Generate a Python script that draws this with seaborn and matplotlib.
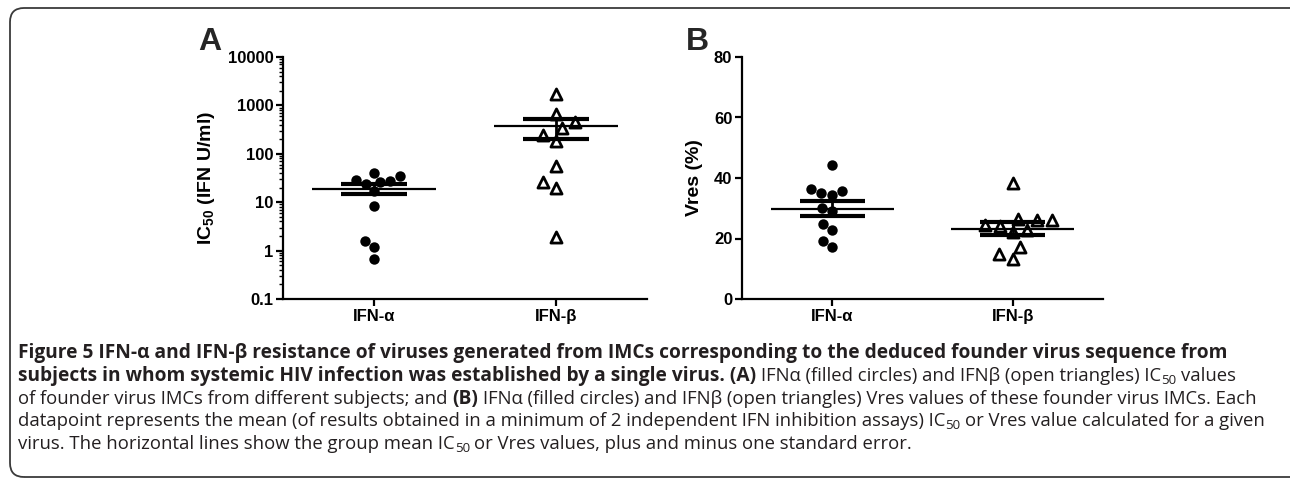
import matplotlib

matplotlib.use("Agg")
import matplotlib.pyplot as plt
import pandas as pd
import seaborn as sns
from matplotlib.patches import FancyBboxPatch
from matplotlib.transforms import IdentityTransform

W, H = 1290, 480
CATEGORIES = ["IFN-α", "IFN-β"]

# values
ic50_alpha = [40, 28.5, 26, 23.5, 28, 35, 17, 8.5, 1.55, 1.2, 0.68]
ic50_beta = [1700, 650, 450, 340, 250, 185, 56, 26, 19.5, 1.95]
vres_alpha = [44.3, 36.4, 35.0, 34.4, 35.7, 29.1, 30.1, 24.8, 22.8, 19.2, 17.2]
vres_beta = [38.3, 26.1, 26.1, 26.4, 24.5, 22.8, 22.1, 24.1, 17.2, 14.9, 13.2]

ic50_ticks = [0.1, 1, 10, 100, 1000, 10000]
ic50_ticklabels = ["0.1", "1", "10", "100", "1000", "10000"]
vres_ticks = [0, 20, 40, 60, 80]

caption_lines = [
    [("Figure 5 IFN-α and IFN-β resistance of viruses generated from IMCs corresponding "
      "to the deduced founder virus sequence from", "b")],
    [("subjects in whom systemic HIV infection was established by a single virus. (A)", "b"),
     (" IFNα (filled circles) and IFNβ (open triangles) IC", "r"), ("50", "sub"), (" values", "r")],
    [("of founder virus IMCs from different subjects; and", "r"), (" (B)", "b"),
     (" IFNα (filled circles) and IFNβ (open triangles) Vres values of these founder virus IMCs. Each", "r")],
    [("datapoint represents the mean (of results obtained in a minimum of 2 independent IFN "
      "inhibition assays) IC", "r"), ("50", "sub"), (" or Vres value calculated for a given", "r")],
    [("virus. The horizontal lines show the group mean IC", "r"), ("50", "sub"),
     (" or Vres values, plus and minus one standard error.", "r")],
]

AXIS_FONT = "Liberation Sans"
CAPTION_FONT = "Open Sans"
CAPTION_SIZE = 13.3
CAPTION_BOLD_SIZE = 13.8
TEXT_COLOR = "#231f20"

sns.set_theme(style="ticks")
plt.rcParams["font.family"] = [AXIS_FONT, "DejaVu Sans"]
plt.rcParams["mathtext.fontset"] = "custom"
plt.rcParams["mathtext.bf"] = "Liberation Sans:bold"
plt.rcParams["mathtext.rm"] = "Liberation Sans:bold"

fig = plt.figure(figsize=(W / 100, H / 100), dpi=100)
fig.patch.set_facecolor("white")


def draw_panel(ax, alpha, beta, log):
    df = pd.DataFrame({
        "group": [CATEGORIES[0]] * len(alpha) + [CATEGORIES[1]] * len(beta),
        "value": alpha + beta,
    })
    sns.swarmplot(data=df[df.group == CATEGORIES[0]], x="group", y="value", order=CATEGORIES,
                  color="black", size=7.5, marker="o", log_scale=log, ax=ax, zorder=3)
    sns.swarmplot(data=df[df.group == CATEGORIES[1]], x="group", y="value", order=CATEGORIES,
                  color="white", edgecolor="black", linewidth=2, size=8, marker="^",
                  log_scale=log, ax=ax, zorder=3)
    stats = df.groupby("group")["value"].agg(["mean", "sem"]).reindex(CATEGORIES)
    for i, (m, se) in enumerate(zip(stats["mean"], stats["sem"])):
        ax.hlines(m, i - 0.34, i + 0.34, color="black", lw=1.6, zorder=5)
        ax.hlines([m - se, m + se], i - 0.18, i + 0.18, color="black", lw=3, zorder=5)
        ax.vlines(i, m - se, m + se, color="black", lw=2, zorder=5)

    ax.set_xlim(-0.5, 1.5)
    ax.set_xlabel("")
    sns.despine(ax=ax)
    for side in ("left", "bottom"):
        ax.spines[side].set_linewidth(1.6)
        ax.spines[side].set_color("black")
    ax.tick_params(which="major", direction="out", length=5, width=1.6, labelsize=12,
                   pad=2, color="black", labelcolor="black")
    ax.tick_params(which="minor", direction="out", length=3, width=1, color="black")
    ax.set_facecolor("white")


axA = fig.add_axes([283 / W, 1 - 299 / H, 364 / W, 242 / H])
draw_panel(axA, ic50_alpha, ic50_beta, True)
axA.set_ylim(0.1, 10000)
axA.set_yticks(ic50_ticks, ic50_ticklabels)
axA.set_ylabel(r"IC$_{\mathbf{50}}$ (IFN U/ml)", fontsize=14, fontweight="bold", color="black")
axA.yaxis.set_label_coords(-0.18, 0.5)

axB = fig.add_axes([742 / W, 1 - 299 / H, 361 / W, 242 / H])
draw_panel(axB, vres_alpha, vres_beta, False)
axB.set_ylim(0, 80)
axB.set_yticks(vres_ticks)
axB.set_ylabel("Vres (%)", fontsize=14, fontweight="bold", color="black")
axB.yaxis.set_label_coords(-0.108, 0.5)

for ax in (axA, axB):
    for lbl in ax.get_xticklabels() + ax.get_yticklabels():
        lbl.set_fontweight("bold")

fig.text(198 / W, 1 - 50 / H, "A", fontsize=23, fontweight="bold", va="baseline")
fig.text(686 / W, 1 - 50 / H, "B", fontsize=23, fontweight="bold", va="baseline")

# rounded frame, open on the right like the journal layout
frame = FancyBboxPatch((10, 3), 1300, 469, boxstyle="round,pad=0,rounding_size=14",
                       transform=IdentityTransform(), fill=False, ec="#3a3a3a", lw=1.3)
fig.add_artist(frame)

# caption, drawn run by run so bold / regular / subscript parts sit next to each other
renderer = fig.canvas.get_renderer()


def text_width(s, **kw):
    t = fig.text(0, 0, s, transform=IdentityTransform(), **kw)
    w = t.get_window_extent(renderer).width
    t.remove()
    return w


space_w = (text_width("a a", fontsize=CAPTION_SIZE, family=CAPTION_FONT)
           - text_width("aa", fontsize=CAPTION_SIZE, family=CAPTION_FONT))

baselines = [358, 381, 404, 426.5, 449]
for runs, base in zip(caption_lines, baselines):
    x = 18
    for text, style in runs:
        if text.startswith(" "):
            x += space_w
            text = text.lstrip()
        if style == "b":
            size = CAPTION_BOLD_SIZE
        elif style == "sub":
            size = CAPTION_SIZE * 0.72
        else:
            size = CAPTION_SIZE
        y = base + (2.5 if style == "sub" else 0)
        t = fig.text(x, H - y, text, transform=IdentityTransform(), fontsize=size,
                     fontweight="bold" if style == "b" else "normal",
                     family=CAPTION_FONT, va="baseline", color=TEXT_COLOR)
        x += t.get_window_extent(renderer).width

fig.savefig("out.png", dpi=100, facecolor="white")
